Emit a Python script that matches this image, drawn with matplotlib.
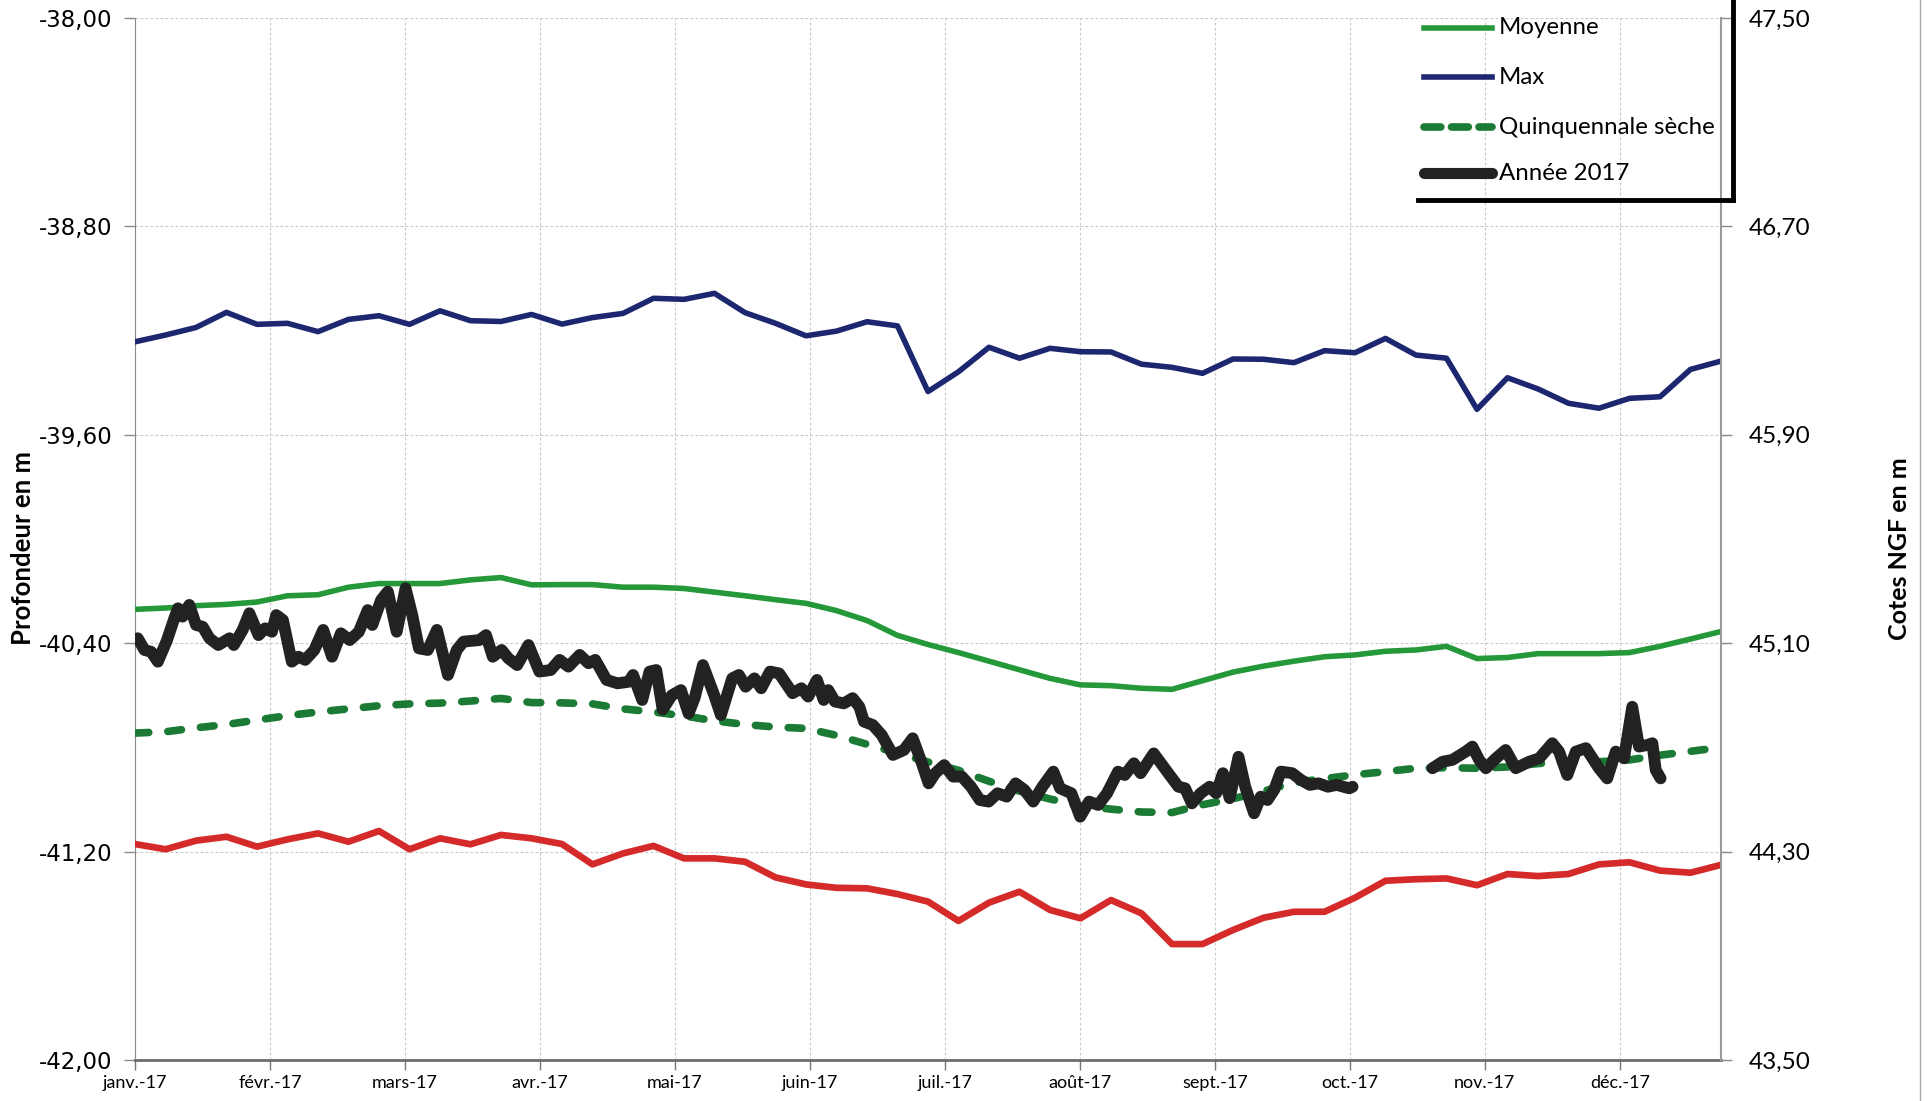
import numpy as np
import matplotlib
matplotlib.use("Agg")
import matplotlib.pyplot as plt
from matplotlib.lines import Line2D
from matplotlib.ticker import FuncFormatter

plt.rcParams['font.family'] = ['Lato', 'DejaVu Sans']

# month labels of the x axis
months = ['janv.-17', 'févr.-17', 'mars-17', 'avr.-17', 'mai-17', 'juin-17',
          'juil.-17', 'août-17', 'sept.-17', 'oct.-17', 'nov.-17', 'déc.-17']
months_shown = 11.75  # the axis stops before the end of december

# weekly reference series (depth in m)
max_level = [-39.243, -39.217, -39.188, -39.130, -39.176, -39.172, -39.204, -39.157, -39.143,
             -39.176, -39.124, -39.162, -39.165, -39.138, -39.175, -39.150, -39.134, -39.076,
             -39.080, -39.057, -39.131, -39.172, -39.220, -39.202, -39.166, -39.182,
             -39.434, -39.358, -39.264, -39.306, -39.268, -39.281, -39.282, -39.329, -39.341,
             -39.364, -39.309, -39.310, -39.323, -39.277, -39.285, -39.230, -39.294, -39.306,
             -39.502, -39.381, -39.424, -39.479, -39.498, -39.460, -39.454, -39.349, -39.317]

min_level = [-41.171, -41.191, -41.158, -41.143, -41.181, -41.153, -41.130, -41.162, -41.121,
             -41.191, -41.149, -41.172, -41.136, -41.149, -41.171, -41.249, -41.207, -41.178,
             -41.226, -41.226, -41.239, -41.299, -41.326, -41.339, -41.341, -41.363,
             -41.392, -41.466, -41.396, -41.354, -41.424, -41.456, -41.386, -41.437, -41.555,
             -41.555, -41.501, -41.454, -41.431, -41.431, -41.377, -41.312, -41.306, -41.303,
             -41.329, -41.286, -41.294, -41.286, -41.249, -41.241, -41.273, -41.281, -41.251]

mean_level = [-40.270, -40.265, -40.256, -40.251, -40.242, -40.218, -40.214, -40.185, -40.171,
              -40.171, -40.171, -40.157, -40.148, -40.176, -40.175, -40.175, -40.185, -40.185,
              -40.190, -40.204, -40.218, -40.233, -40.247, -40.275, -40.313, -40.370, -40.405,
              -40.436, -40.469, -40.502, -40.535, -40.560, -40.563, -40.573, -40.577, -40.544,
              -40.511, -40.488, -40.469, -40.452, -40.445, -40.431, -40.426, -40.412, -40.459,
              -40.455, -40.440, -40.440, -40.440, -40.436, -40.412, -40.384, -40.355]

dry5_level = [-40.745, -40.740, -40.725, -40.712, -40.695, -40.678, -40.664, -40.652, -40.640,
              -40.633, -40.630, -40.622, -40.612, -40.628, -40.629, -40.633, -40.652, -40.664,
              -40.679, -40.698, -40.712, -40.722, -40.727, -40.754, -40.788, -40.822, -40.856,
              -40.888, -40.930, -40.968, -40.998, -41.025, -41.037, -41.048, -41.050, -41.020,
              -40.997, -40.968, -40.935, -40.920, -40.905, -40.893, -40.880, -40.878, -40.880,
              -40.875, -40.862, -40.855, -40.855, -40.848, -40.830, -40.815, -40.800]

# 2017 observations (position in weeks, depth in m), nan = missing data
obs_week = [0.09, 0.31, 0.53, 0.75, 1.05, 1.27, 1.41, 1.56, 1.78, 2.00, 2.22, 2.44, 2.73, 3.10,
            3.24, 3.53, 3.75, 4.05, 4.27, 4.49, 4.63, 4.85, 5.14, 5.36, 5.58, 5.88, 6.17, 6.46,
            6.75, 7.04, 7.34, 7.63, 7.78, 8.07, 8.29, 8.58, 8.87, 9.09, 9.31, 9.60, 9.90, 10.26,
            10.55, 10.77, 11.29, 11.51, 11.73, 12.02, 12.24, 12.53, 12.90, 13.26, 13.63, 13.92,
            14.21, 14.58, 14.87, 15.09, 15.46, 15.82, 16.19, 16.33, 16.63, 16.87, 17.09, 17.30,
            17.60, 17.90, 18.15, 18.35, 18.62, 18.99, 19.21, 19.58, 19.80, 20.02, 20.31, 20.53,
            20.82, 21.12, 21.56, 21.85, 22.07, 22.36, 22.58, 22.73, 22.95, 23.24, 23.53, 23.75,
            23.90, 24.19, 24.48, 24.85, 25.21, 25.50, 25.80, 26.02, 26.24, 26.53, 26.82, 27.11,
            27.41, 27.70, 27.99, 28.28, 28.58, 28.87, 29.16, 29.45, 29.75, 30.11, 30.33, 30.70,
            30.99, 31.28, 31.58, 31.87, 32.23, 32.45, 32.75, 32.97, 33.40, 33.84, 34.21, 34.43,
            34.65, 34.94, 35.23, 35.45, 35.67, 35.89, 36.18, 36.40, 36.69, 36.91, 37.13, 37.35,
            37.57, 37.94, 38.23, 38.52, 38.81, 39.11, 39.40, 39.81, 39.92,
            41.00,
            42.54, 42.87, 43.19, 43.63, 43.85, 44.07, 44.29, 44.62, 44.94, 45.27, 45.71, 46.04,
            46.47, 46.69, 46.96, 47.24, 47.57, 48.00, 48.27, 48.55, 48.82, 49.09, 49.31, 49.58,
            49.75, 49.86, 50.02]
obs_level = [-40.381, -40.426, -40.433, -40.471, -40.388, -40.311, -40.266, -40.298, -40.253,
             -40.330, -40.337, -40.381, -40.407, -40.381, -40.407, -40.349, -40.285, -40.369,
             -40.343, -40.356, -40.292, -40.311, -40.471, -40.452, -40.464, -40.426, -40.349,
             -40.452, -40.362, -40.388, -40.356, -40.273, -40.330, -40.234, -40.202, -40.356,
             -40.189, -40.292, -40.420, -40.426, -40.349, -40.522, -40.426, -40.394, -40.388,
             -40.369, -40.452, -40.426, -40.458, -40.484, -40.407, -40.509, -40.503, -40.464,
             -40.490, -40.445, -40.477, -40.464, -40.541, -40.554, -40.548, -40.522, -40.618,
             -40.509, -40.503, -40.655, -40.600, -40.580, -40.670, -40.610, -40.484, -40.599,
             -40.676, -40.535, -40.522, -40.567, -40.535, -40.573, -40.509, -40.516, -40.592,
             -40.573, -40.605, -40.541, -40.618, -40.580, -40.624, -40.631, -40.611, -40.644,
             -40.701, -40.714, -40.752, -40.829, -40.810, -40.765, -40.861, -40.938, -40.899,
             -40.868, -40.912, -40.912, -40.951, -41.002, -41.008, -40.976, -40.989, -40.938,
             -40.963, -41.008, -40.951, -40.893, -40.957, -40.976, -41.066, -41.008, -41.021,
             -40.976, -40.893, -40.906, -40.861, -40.899, -40.823, -40.893, -40.951, -40.957,
             -41.015, -40.976, -40.951, -40.976, -40.899, -40.995, -40.836, -40.951, -41.053,
             -40.989, -41.002, -40.963, -40.893, -40.899, -40.925, -40.944, -40.938, -40.951,
             -40.944, -40.957, -40.951,
             np.nan,
             -40.880, -40.855, -40.848, -40.816, -40.797, -40.848, -40.880, -40.842, -40.810,
             -40.880, -40.855, -40.842, -40.784, -40.816, -40.906, -40.816, -40.803, -40.880,
             -40.919, -40.816, -40.842, -40.644, -40.797, -40.791, -40.784, -40.887, -40.919]

ngf_offset = 85.5  # Cotes NGF = profondeur + 85,5

red = '#d42a2a'
navy = '#1c2770'
green = '#25983a'
dark_green = '#1b7a34'
black = '#222222'

n_weeks = len(max_level)
weeks = np.arange(n_weeks)
month_pos = np.arange(len(months)) * (n_weeks - 1) / months_shown

fig = plt.figure(figsize=(19.30, 11.01), dpi=100)
ax = fig.add_axes([135 / 1930, 1 - 1060 / 1101, 1586 / 1930, 1042 / 1101])

ax.plot(weeks, min_level, color=red, lw=4.8, solid_joinstyle='round', zorder=3)
ax.plot(weeks, max_level, color=navy, lw=4.0, solid_joinstyle='round', zorder=3)
ax.plot(weeks, mean_level, color=green, lw=4.0, solid_joinstyle='round', zorder=3)
ax.plot(weeks, dry5_level, color=dark_green, lw=5.5, dashes=(1.8, 2.5),
        dash_capstyle='round', zorder=4)
ax.plot(obs_week, obs_level, color=black, lw=8.5, solid_joinstyle='round',
        solid_capstyle='round', zorder=5)

comma = FuncFormatter(lambda v, p: f"{v:.2f}".replace('.', ','))

ax.set_xlim(0, n_weeks - 1)
ax.set_ylim(-42, -38)
ax.set_yticks(np.linspace(-42, -38, 6))
ax.yaxis.set_major_formatter(comma)
ax.set_xticks(month_pos)
ax.set_xticklabels(months)

ax.grid(True, color='#c8c8c8', lw=0.8, ls=(0, (2.5, 2)))
ax.set_axisbelow(True)

ax.spines['top'].set_visible(False)
ax.spines['right'].set_visible(False)
ax.spines['left'].set_color('#8a8a8a')
ax.spines['bottom'].set_color('#6e6e6e')
ax.spines['bottom'].set_linewidth(2)

ax.tick_params(axis='y', length=8, width=1, color='#8a8a8a', pad=8, labelsize=16.5)
ax.tick_params(axis='x', length=7, width=1, color='#777777', pad=4, labelsize=13)
for lbl in ax.get_yticklabels():
    lbl.set_fontfamily('DejaVu Sans')
for lbl in ax.get_xticklabels():
    lbl.set_fontfamily(['Liberation Sans Narrow', 'Lato'])

ax2 = ax.twinx()
ax2.set_ylim(-42 + ngf_offset, -38 + ngf_offset)
ax2.set_yticks(np.linspace(-42 + ngf_offset, -38 + ngf_offset, 6))
ax2.yaxis.set_major_formatter(comma)
ax2.tick_params(axis='y', length=8, width=1, color='#8a8a8a', pad=12, labelsize=17.5)
for side in ['top', 'left', 'bottom']:
    ax2.spines[side].set_visible(False)
ax2.spines['right'].set_color('#9a9a9a')
ax2.spines['right'].set_linewidth(1.5)

ax.set_ylabel('Profondeur en m', fontsize=18.5, fontweight='bold')
ax.yaxis.set_label_coords(-0.063, 0.491)
ax2.set_ylabel('Cotes NGF en m', fontsize=18, fontweight='bold')
ax2.yaxis.set_label_coords(1.105, 0.491)

# outer chart border on the right
fig.add_artist(Line2D([1920 / 1930] * 2, [0, 1], color='#a8a8a8', lw=1))

# legend (top part cut off in the original)
legend_rows = [('Moyenne', dict(color=green, lw=4.0)),
               ('Max', dict(color=navy, lw=4.0)),
               ('Quinquennale sèche', dict(color=dark_green, lw=5.5, dashes=(2.2, 1.4),
                                            dash_capstyle='round')),
               ('Année 2017', dict(color=black, lw=8.0, solid_capstyle='round'))]
row_px = [28, 77, 127, 173]
for (label, style), ypx in zip(legend_rows, row_px):
    yf = 1 - ypx / 1101
    fig.add_artist(Line2D([1424 / 1930, 1492 / 1930], [yf, yf], **style))
    fig.text(1499 / 1930, yf, label, fontsize=17.3, va='center', ha='left')

box_y = 1 - 200 / 1101
fig.add_artist(Line2D([1418 / 1930, 1733 / 1930], [box_y, box_y], color='black', lw=3.5,
                      solid_capstyle='projecting'))
fig.add_artist(Line2D([1733 / 1930, 1733 / 1930], [box_y, 1.0], color='black', lw=3.5,
                      solid_capstyle='projecting'))

fig.savefig('out.png', dpi=100)
